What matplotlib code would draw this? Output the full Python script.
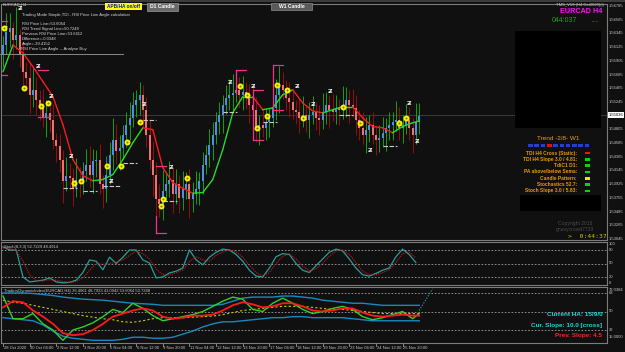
import matplotlib
matplotlib.use('Agg')
import matplotlib.pyplot as plt
from matplotlib.patches import Rectangle
from matplotlib.transforms import blended_transform_factory as blend

plt.rcParams['font.family'] = ['Liberation Sans', 'DejaVu Sans']

W, H = 625, 352
BG = '#101010'

# ---------------- data ----------------
open0 = 1.5600
close = [1.5616, 1.5637, 1.5643, 1.5624, 1.5632, 1.5600, 1.5573, 1.5563, 1.5536, 1.5544,
         1.5528, 1.5515, 1.5499, 1.5507, 1.5496, 1.5464, 1.5453, 1.5432, 1.5397, 1.5406,
         1.5403, 1.5387, 1.5400, 1.5397, 1.5413, 1.5424, 1.5408, 1.5429, 1.5432, 1.5392,
         1.5384, 1.5408, 1.5440, 1.5464, 1.5445, 1.5451, 1.5472, 1.5488, 1.5499, 1.5520,
         1.5528, 1.5536, 1.5512, 1.5472, 1.5432, 1.5408, 1.5368, 1.5360, 1.5381, 1.5392,
         1.5400, 1.5376, 1.5392, 1.5371, 1.5384, 1.5392, 1.5368, 1.5376, 1.5384, 1.5397,
         1.5424, 1.5440, 1.5456, 1.5472, 1.5493, 1.5504, 1.5520, 1.5531, 1.5536, 1.5539,
         1.5544, 1.5536, 1.5541, 1.5533, 1.5520, 1.5512, 1.5480, 1.5488, 1.5483, 1.5493,
         1.5499, 1.5515, 1.5536, 1.5552, 1.5544, 1.5531, 1.5525, 1.5512, 1.5509, 1.5499,
         1.5504, 1.5496, 1.5504, 1.5509, 1.5499, 1.5496, 1.5509, 1.5520, 1.5512, 1.5509,
         1.5515, 1.5512, 1.5520, 1.5528, 1.5520, 1.5515, 1.5496, 1.5483, 1.5472, 1.5480,
         1.5488, 1.5472, 1.5464, 1.5467, 1.5475, 1.5483, 1.5488, 1.5493, 1.5496, 1.5483,
         1.5488, 1.5496, 1.5483, 1.5472, 1.5493, 1.5502]
wick_up_pips = [15, 30, 25, 10, 45, 10, 20, 15, 25, 35, 20, 15, 30, 20, 15, 25, 10, 20, 15, 30,
                20, 15, 35, 20, 15, 25, 30, 20, 15, 25, 15, 30, 20, 35, 25, 20, 15, 20, 25, 20,
                15, 20, 15, 20, 25, 30, 20, 25, 35, 20, 30, 20, 25, 15, 30, 20, 25, 20, 30, 15,
                20, 15, 25, 20, 15, 20, 15, 20, 25, 30, 15, 20, 25, 15, 20, 30, 20, 15, 25, 20,
                15, 20, 25, 30, 20, 15, 25, 20, 15, 20, 30, 15, 20, 25, 15, 20, 30, 20, 15, 25,
                20, 15, 30, 20, 15, 25, 20, 15, 25, 20, 15, 20, 15, 20, 25, 15, 20, 15, 30, 20,
                15, 25, 20, 15, 30, 20]
wick_dn_pips = [20, 15, 25, 30, 15, 20, 25, 15, 30, 20, 25, 20, 15, 30, 20, 15, 25, 20, 35, 15,
                20, 30, 15, 25, 20, 15, 20, 30, 25, 15, 30, 20, 15, 25, 20, 30, 15, 20, 25, 15,
                20, 25, 30, 20, 15, 35, 40, 20, 25, 15, 20, 30, 15, 25, 20, 15, 30, 20, 15, 25,
                20, 15, 20, 25, 15, 20, 30, 15, 20, 25, 15, 20, 25, 20, 30, 15, 20, 25, 15, 20,
                25, 15, 20, 30, 15, 20, 25, 15, 20, 25, 15, 20, 30, 15, 20, 25, 15, 20, 30, 15,
                20, 25, 15, 20, 30, 15, 25, 20, 15, 30, 20, 15, 25, 20, 15, 30, 20, 25, 15, 20,
                25, 15, 20, 30, 15, 20]

ma_bar = list(range(0, 124, 3)) + [125]
ma_val = [1.5573, 1.5616, 1.5603, 1.5581, 1.5557, 1.5533, 1.5488, 1.5432, 1.5406, 1.5398,
          1.5400, 1.5408, 1.5432, 1.5459, 1.5483, 1.5480, 1.5419, 1.5395, 1.5386, 1.5378,
          1.5379, 1.5400, 1.5448, 1.5507, 1.5533, 1.5533, 1.5512, 1.5515, 1.5536, 1.5544,
          1.5523, 1.5510, 1.5507, 1.5512, 1.5517, 1.5517, 1.5499, 1.5485, 1.5483, 1.5475,
          1.5485, 1.5491, 1.5494]

price_ticks = [1.56785, 1.56565, 1.56345, 1.56125, 1.55905, 1.55685, 1.55465, 1.55245,
               1.54805, 1.54585, 1.54365, 1.54145, 1.53925, 1.53705, 1.53485, 1.53265, 1.53045]
current_price = 1.55036

x_label_bar = [0, 8, 16, 24, 32, 40, 48, 56, 64, 72, 80, 88, 96, 104, 112, 120]
x_labels = ['28 Oct 2020', '30 Oct 04:00', '2 Nov 12:00', '3 Nov 20:00', '5 Nov 04:00',
            '6 Nov 12:00', '9 Nov 20:00', '11 Nov 04:00', '12 Nov 12:00', '13 Nov 20:00',
            '17 Nov 04:00', '18 Nov 12:00', '19 Nov 20:00', '23 Nov 04:00', '24 Nov 12:00',
            '25 Nov 20:00']

# markers on price chart: (bar, price)
dot_bar = [0.3, 6.3, 11.4, 13.5, 21.3, 23.4, 31.2, 35.4, 37.2, 41.1, 47.4, 48.0, 55.3,
           71.2, 73.3, 76.3, 79.3, 82.3, 85.3, 90.1, 102.1, 107.2, 118.9, 121.0]
dot_price = [1.5643, 1.5547, 1.5518, 1.5522, 1.5395, 1.5397, 1.5421, 1.5421, 1.5461, 1.5493,
             1.5357, 1.5368, 1.5402, 1.5550, 1.5536, 1.5482, 1.5502, 1.5552, 1.5544, 1.5499,
             1.5517, 1.5491, 1.5491, 1.5499]
icon_bar = [5.1, 10.5, 14.4, 20.4, 32.4, 42.3, 50.5, 68.2, 75.1, 88.3, 93.1, 98.2, 110.2,
            121.9, 124.3]
icon_price = [1.5674, 1.5582, 1.5534, 1.5437, 1.5397, 1.5520, 1.5419, 1.5555, 1.5550,
              1.5549, 1.5520, 1.5541, 1.5446, 1.5522, 1.5461]
dash_start = [0, 18, 24, 30, 36, 42, 48, 66, 78, 101, 114]
dash_end = [1.2, 22.2, 28.2, 35, 40.2, 46, 52.3, 70.3, 82.3, 105, 118.3]
dash_price = [1.5646, 1.5386, 1.5382, 1.5389, 1.5426, 1.5496, 1.5365, 1.5509, 1.5493,
              1.5504, 1.5453]
brk_start = [-0.6, -0.6, 10.5, 10.5, 46, 46, 70, 75, 75, 81, 81]
brk_end = [1.2, 1.2, 13.5, 14.0, 49, 49, 73, 78, 78, 84, 84]
brk_price = [1.5654, 1.5568, 1.5576, 1.5501, 1.5421, 1.5314, 1.5576, 1.5544, 1.5464,
             1.5584, 1.5512]
brk_vbar = [46, 70, 75, 81]
brk_vtop = [1.5341, 1.5576, 1.5544, 1.5584]
brk_vbot = [1.5314, 1.5539, 1.5464, 1.5512]

stoch_bar = list(range(0, 126, 2))
stoch_k = [87, 80, 80, 20, 9, 11, 13, 18, 9, 7, 8, 13, 30, 58, 55, 36, 64, 50, 64, 80,
           80, 58, 51, 18, 20, 29, 33, 40, 80, 58, 47, 64, 75, 82, 80, 70, 55, 35, 22, 20,
           40, 65, 72, 70, 50, 35, 30, 45, 60, 75, 82, 78, 60, 40, 25, 22, 28, 35, 40, 65,
           82, 70, 52]
stoch_d = [85, 84, 78, 55, 25, 12, 11, 14, 13, 10, 8, 10, 18, 35, 50, 48, 50, 53, 58, 68,
           78, 72, 60, 38, 25, 24, 30, 35, 55, 65, 58, 55, 68, 76, 80, 76, 64, 46, 30, 22,
           30, 50, 66, 71, 60, 44, 34, 38, 50, 66, 78, 80, 70, 52, 33, 25, 25, 30, 36, 52,
           72, 76, 62]

tdi_bar = list(range(0, 124, 3)) + [125]
tdi_green = [65, 43, 43, 48, 38, 32, 22, 32, 35, 39, 45, 52, 49, 58, 53, 46, 41, 43, 45, 47,
             50, 55, 60, 64, 62, 52, 50, 58, 63, 58, 52, 48, 50, 53, 55, 52, 45, 42, 44, 47,
             50, 43, 48]
tdi_red = [54, 60, 59, 51, 45, 38, 29, 27, 28, 32, 38, 45, 48, 51, 53, 51, 45, 43, 44, 46,
           46, 47, 51, 56, 59, 57, 54, 55, 58, 58, 55, 51, 50, 51, 53, 53, 49, 46, 45, 46,
           47, 46, 46]
tdi_upper = [68, 68, 68, 67.5, 66.5, 65.5, 64, 63, 62, 61.5, 61, 60, 59, 58, 57.5, 57, 56, 56,
             56, 56, 56, 56, 57, 60, 63, 64, 64, 64, 65, 65, 64, 63, 61, 60, 59, 58, 58, 57,
             56, 56, 56, 56, 56]
tdi_lower = [44, 43, 42, 41, 37, 31, 26, 24, 23, 22, 22, 22, 23, 25, 25, 24, 24, 25, 28, 31,
             35, 38, 40, 40, 41, 42, 43, 44, 44, 45, 45, 44, 44, 44, 44, 43, 42, 41, 41, 41,
             41, 41, 41]
tdi_mid = [61, 59, 58, 56, 54, 52, 50, 48, 46, 44.5, 43, 42, 40, 39.5, 41, 43, 44, 44, 44,
           44.5, 45, 45.5, 47, 49, 51, 52, 53, 54, 55, 55, 55, 54, 53, 52, 52, 51, 50, 49, 48,
           48, 48, 48, 48]
proj_bar = [125, 129]
proj_val = [51, 72]

trend_squares = ['#1f3fd8'] * 3 + ['#e01010'] + ['#1f3fd8'] * 6
panel_rows = ['TDI H4 Cross (Static):', 'TDI H4 Slope 3.0 / 4.81:', 'TdiC1 D1:',
              'PA above/below Sema:', 'Candle Pattern:', 'Stochastics 52.7:',
              'Stoch Slope 3.0 / 5.83:']
panel_flags = ['#ff1010', '#10d010', '#10d010', '#10d010', '#e8e800', '#10d010', '#10d010']

# ---------------- figure ----------------
fig = plt.figure(figsize=(W / 100, H / 100), dpi=100, facecolor=BG)


def px_axes(x0, y0, x1, y1, **kw):
    return fig.add_axes([x0 / W, 1 - y1 / H, (x1 - x0) / W, (y1 - y0) / H], **kw)


SP = '#7c7c7c'
LBL = '#c8c8c8'
FS = 3.0
ax = px_axes(1, 4, 607, 240)
ax_st = px_axes(1, 242, 607, 285)
ax_td = px_axes(1, 287, 607, 343)
for a in (ax, ax_st, ax_td):
    a.set_facecolor(BG)
    a.set_xlim(-0.6, 181.4)
    a.set_xticks([])
    a.set_yticks([])
    for s in a.spines.values():
        s.set_color(SP)
        s.set_linewidth(0.8)

ax.set_ylim(1.53029, 1.56817)

# current price line
ax.axhline(current_price, color='#3a3a3a', lw=0.7, zorder=0)

# candles
prev = open0
for i, c in enumerate(close):
    o = prev
    upc = c >= o
    hi = max(o, c) + wick_up_pips[i] * 1e-4
    lo = min(o, c) - wick_dn_pips[i] * 1e-4
    ax.vlines(i, lo, hi, color='#14a014' if upc else '#9a0c0c', lw=0.7, zorder=2)
    ax.add_patch(Rectangle((i - 0.3, min(o, c)), 0.6, max(abs(c - o), 0.00005),
                           facecolor='#4a90e2' if upc else '#f07070', edgecolor='none',
                           zorder=3))
    prev = c

# moving average coloured by slope
for k in range(len(ma_bar) - 1):
    rising = ma_val[k + 1] >= ma_val[k]
    ax.plot(ma_bar[k:k + 2], ma_val[k:k + 2], color='#22dd22' if rising else '#ff1a1a',
            lw=1.0, zorder=4, solid_capstyle='round')

# dashes
for s, e, p in zip(dash_start, dash_end, dash_price):
    ax.plot([s, e], [p, p], color='#c8c8c8', lw=0.8, ls=(0, (4, 1.5)), zorder=4)
# brackets
for s, e, p in zip(brk_start, brk_end, brk_price):
    ax.plot([s, e], [p, p], color='#ff2a8a', lw=0.9, zorder=4)
for b, t, bt in zip(brk_vbar, brk_vtop, brk_vbot):
    ax.plot([b, b], [bt, t], color='#ff2a8a', lw=0.9, zorder=4)
# yellow dots
ax.plot(dot_bar, dot_price, 'o', ms=4.3, color='#f4f400', mec='none', zorder=5)
ax.plot(dot_bar, dot_price, 'o', ms=1.4, color='#8a7000', mec='none', zorder=6)
# icons
for b, p in zip(icon_bar, icon_price):
    ax.text(b, p, 'Ƶ', color='#e8e8e8', fontsize=4.5, ha='center', va='center',
            fontweight='bold', zorder=6, family='DejaVu Sans')

# price labels
tr = blend(ax.transAxes, ax.transData)
for v in price_ticks:
    ax.text(1.003, v, f'{v:.5f}', transform=tr, color=LBL, fontsize=FS,
            va='center', ha='left', clip_on=False)
ax.text(1.003, current_price, f'{current_price:.5f}', transform=tr, color='#000000',
        fontsize=FS, va='center', ha='left', clip_on=False,
        bbox=dict(boxstyle='square,pad=0.15', fc='#ffffff', ec='none'))

# stochastic
for lv in (80, 50, 20):
    ax_st.axhline(lv, color='#a0a0a0', lw=0.6, ls=(0, (2, 2)))
ax_st.set_ylim(2.2, 97.8)
ax_st.plot(stoch_bar, stoch_k, color='#2a9c9c', lw=0.9)
ax_st.plot(stoch_bar, stoch_d, color='#cc1a1a', lw=0.8, ls=(0, (1, 1)))
trs = blend(ax_st.transAxes, ax_st.transData)
for v, lab in ((80, '80'), (50, '50'), (20, '20')):
    ax_st.text(1.003, v, lab, transform=trs, color=LBL, fontsize=FS, va='center',
               clip_on=False)
ax_st.text(1.003, 0.96, '100', transform=ax_st.transAxes, color=LBL, fontsize=FS,
           va='center', clip_on=False)
ax_st.text(1.003, 0.05, '0', transform=ax_st.transAxes, color=LBL, fontsize=FS,
           va='center', clip_on=False)
ax_st.text(0.005, 0.93, 'Stoch(8,3,3) 52.7229 48.4914', transform=ax_st.transAxes,
           color=LBL, fontsize=FS, va='top')

# TDI
ax_td.set_ylim(19.4, 73.8)
for lv in (68, 50, 32):
    ax_td.axhline(lv, color='#a0a0a0', lw=0.6, ls=(0, (2, 2)))
ax_td.plot(tdi_bar, tdi_upper, color='#1a88c0', lw=1.0)
ax_td.plot(tdi_bar, tdi_lower, color='#1a88c0', lw=1.0)
ax_td.plot(tdi_bar, tdi_mid, color='#c8c800', lw=0.8, ls=(0, (2, 2)))
ax_td.plot(tdi_bar, tdi_green, color='#30d030', lw=1.0)
ax_td.plot(tdi_bar, tdi_red, color='#ff1a1a', lw=1.3)
ax_td.plot(proj_bar, proj_val, color='#2ab0b0', lw=0.8, ls=(0, (1, 1.5)))
trt = blend(ax_td.transAxes, ax_td.transData)
for v, lab in ((68, '68'), (50, '50'), (32, '32')):
    ax_td.text(1.003, v, lab, transform=trt, color=LBL, fontsize=FS, va='center',
               clip_on=False)
ax_td.text(1.003, 0.95, '72.0384', transform=ax_td.transAxes, color=LBL,
           fontsize=FS, va='center', clip_on=False)
ax_td.text(1.003, 0.1, '15.0000', transform=ax_td.transAxes, color=LBL,
           fontsize=FS, va='center', clip_on=False)
ax_td.text(0.005, 0.96,
           'TradersDynamicIndex(EURCAD,H4) 36.4061 48.7923 41.0942 53.6064 50.7248',
           transform=ax_td.transAxes, color=LBL, fontsize=FS, va='top')
ax_td.text(0.992, 0.5, 'Current HA: 15/9/0', transform=ax_td.transAxes, color='#10d8d8',
           fontsize=4.6, fontweight='bold', ha='right', va='center')
ax_td.text(0.992, 0.32, 'Cur. Slope: 10.0 [cross]', transform=ax_td.transAxes,
           color='#10d8d8', fontsize=4.6, fontweight='bold', ha='right', va='center')
ax_td.text(0.992, 0.14, 'Prev. Slope: 4.5', transform=ax_td.transAxes, color='#ff2020',
           fontsize=4.6, fontweight='bold', ha='right', va='center')

# x labels
trx = blend(ax_td.transData, ax_td.transAxes)
for b, lab in zip(x_label_bar, x_labels):
    ax_td.plot([b, b], [0, -0.06], transform=trx, color='#9a9a9a', lw=0.6, clip_on=False)
    ax_td.text(b + 0.2, -0.05, lab, transform=trx, color=LBL, fontsize=FS,
               va='top', ha='left', clip_on=False)

# ---------------- overlay (pixel coordinates) ----------------
ov = px_axes(0, 0, W, H)
ov.set_xlim(0, W)
ov.set_ylim(H, 0)
ov.axis('off')
ov.patch.set_alpha(0)

ov.add_patch(Rectangle((0, 0), W, 2, facecolor='#3c3c3c', edgecolor='none'))
# black boxes
ov.add_patch(Rectangle((515, 31), 86, 97, facecolor='#000000', edgecolor='none'))
ov.add_patch(Rectangle((520, 195), 81, 16, facecolor='#000000', edgecolor='none'))

ov.text(3, 4.5, 'EURCAD,H4', color=LBL, fontsize=FS, va='center')
info = ['Trading Mode Simple,TDI - RSI Price Line Angle calculation',
        'RSI Price Line=53.6064', 'RSI Trend Signal Line=50.7248',
        'Previous RSI Price Line=53.6412', 'Difference=-0.0348', 'Angle=-39.4152',
        'RSI Price Line Angle ---Analyse Buy']
ys = [15, 24, 29, 34, 39, 44, 49]
for t, y in zip(info, ys):
    ov.text(21 if y == 49 else 22, y, t, color='#d8d8d8', fontsize=FS, va='center')
ov.plot([0, 123], [54, 54], color='#8a8a8a', lw=0.7)

# buttons
ov.add_patch(Rectangle((105, 3), 37, 7, facecolor='#ffff00', edgecolor='none'))
ov.text(123.5, 6.5, 'APB/HA on/off', color='#1010c0', fontsize=3.4, fontweight='bold',
        ha='center', va='center')
ov.add_patch(Rectangle((147, 3), 31, 8, facecolor='#6a6a6a', edgecolor='#9a9a9a', lw=0.5))
ov.text(162.5, 7, 'D1 Candle', color='#ffffff', fontsize=3.6, fontweight='bold',
        ha='center', va='center')
ov.add_patch(Rectangle((271, 3), 41, 7, facecolor='#5a5a5a', edgecolor='#8a8a8a', lw=0.5))
ov.text(291.5, 6.5, 'W1 Candle', color='#ffffff', fontsize=3.6, fontweight='bold',
        ha='center', va='center')

# top right
ov.text(604, 5, 'TMS_V19 (H4 Oct2020)(i)', color=LBL, fontsize=FS, ha='right',
        va='center')
ov.text(602, 11.5, 'EURCAD H4', color='#ff10ff', fontsize=5.2, fontweight='bold',
        ha='right', va='center')
ov.text(577, 21, '044:037', color='#20a020', fontsize=5, ha='right', va='center')
ov.text(592, 20, '.....', color='#c0a000', fontsize=4, ha='left', va='center')

# trend panel
ov.text(558, 139, 'Trend -2/8- W1', color='#e8a000', fontsize=4.6, ha='center',
        va='center')
for k, col in enumerate(trend_squares):
    ov.add_patch(Rectangle((528 + k * 6.3, 144), 4.6, 2.6, facecolor=col, edgecolor='none'))
for k, (t, col) in enumerate(zip(panel_rows, panel_flags)):
    y = 153 + k * 6.3
    ov.text(577, y, t, color='#e89a00', fontsize=3.5, fontweight='bold', ha='right',
            va='center')
    ov.add_patch(Rectangle((585, y - 1.2), 5, 2.6, facecolor=col, edgecolor='none'))

ov.text(575, 223, 'Copyright 2016', color='#4a4a4a', fontsize=3.6, ha='center',
        va='center')
ov.text(575, 229, 'gnavycrowd7733', color='#4a4a4a', fontsize=3.6, ha='center',
        va='center')
ov.text(568, 236.5, '>  0:44:37', color='#c8c800', fontsize=4.6, ha='left', va='center',
        family='DejaVu Sans Mono')

fig.savefig('out.png', dpi=100, facecolor=BG)
